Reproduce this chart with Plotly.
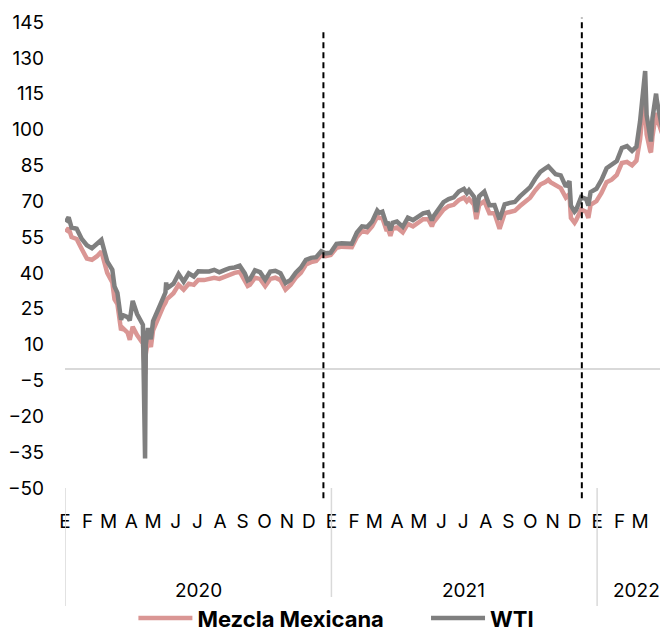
import plotly.graph_objects as go

# --- Datos (USD por barril, lectura aproximada del gráfico) ---
fechas = [
    "2020-01-02", "2020-01-06", "2020-01-10", "2020-01-17", "2020-01-24", "2020-01-31",
    "2020-02-07", "2020-02-14", "2020-02-20", "2020-02-28", "2020-03-06", "2020-03-09",
    "2020-03-13", "2020-03-18", "2020-03-20", "2020-03-27", "2020-03-30", "2020-04-03",
    "2020-04-09", "2020-04-17", "2020-04-20", "2020-04-21", "2020-04-24", "2020-04-28",
    "2020-05-01", "2020-05-08", "2020-05-15", "2020-05-18", "2020-05-19", "2020-05-20",
    "2020-05-29", "2020-06-05", "2020-06-12", "2020-06-19", "2020-06-26", "2020-07-02",
    "2020-07-10", "2020-07-17", "2020-07-24", "2020-07-31", "2020-08-07", "2020-08-14",
    "2020-08-21", "2020-08-28", "2020-09-04", "2020-09-08", "2020-09-11", "2020-09-18",
    "2020-09-25", "2020-10-02", "2020-10-09", "2020-10-16", "2020-10-23", "2020-10-30",
    "2020-11-06", "2020-11-13", "2020-11-20", "2020-11-27", "2020-12-04", "2020-12-11",
    "2020-12-18", "2020-12-24", "2020-12-31",
    "2021-01-08", "2021-01-15", "2021-01-22", "2021-01-29", "2021-02-05", "2021-02-12",
    "2021-02-19", "2021-02-26", "2021-03-05", "2021-03-08", "2021-03-12", "2021-03-18",
    "2021-03-19", "2021-03-23", "2021-03-26", "2021-04-01", "2021-04-09", "2021-04-16",
    "2021-04-23", "2021-04-30", "2021-05-07", "2021-05-14", "2021-05-19", "2021-05-21",
    "2021-05-28", "2021-06-04", "2021-06-11", "2021-06-18", "2021-06-25", "2021-07-02",
    "2021-07-06", "2021-07-09", "2021-07-16", "2021-07-19", "2021-07-23", "2021-07-30",
    "2021-08-06", "2021-08-13", "2021-08-20", "2021-08-27", "2021-09-03", "2021-09-10",
    "2021-09-17", "2021-09-24", "2021-10-01", "2021-10-08", "2021-10-15", "2021-10-22",
    "2021-10-26", "2021-10-29", "2021-11-05", "2021-11-12", "2021-11-19", "2021-11-24",
    "2021-11-26", "2021-12-01", "2021-12-03", "2021-12-10", "2021-12-17", "2021-12-20",
    "2021-12-23", "2021-12-31",
    "2022-01-07", "2022-01-14", "2022-01-21", "2022-01-28", "2022-02-04", "2022-02-11",
    "2022-02-18", "2022-02-24", "2022-03-01", "2022-03-04", "2022-03-08", "2022-03-10",
    "2022-03-15", "2022-03-16", "2022-03-18", "2022-03-23", "2022-03-24", "2022-03-29",
    "2022-03-31",
]

wti = [
    61.2, 63.3, 59.0, 58.5, 54.2, 51.6,
    50.3, 52.1, 53.8, 44.8, 41.3, 34.4,
    31.7, 20.4, 22.4, 21.5, 20.1, 28.3,
    22.8, 18.3, -37.6, 10.0, 16.9, 12.3,
    19.8, 24.7, 29.4, 31.8, 36.0, 33.5,
    35.5, 39.6, 36.3, 39.8, 38.5, 40.7,
    40.6, 40.6, 41.3, 40.3, 41.2, 42.0,
    42.3, 43.0, 39.8, 36.8, 37.3, 41.1,
    40.3, 37.1, 40.6, 40.9, 39.9, 35.8,
    37.1, 40.1, 42.2, 45.5, 46.3, 46.6,
    49.1, 48.2, 48.5,
    52.2, 52.4, 52.3, 52.2, 56.9, 59.5,
    59.2, 61.5, 66.1, 65.1, 65.6, 60.0,
    61.4, 57.8, 61.0, 61.5, 59.3, 63.1,
    62.1, 63.6, 64.9, 65.4, 62.0, 63.6,
    66.3, 69.6, 70.9, 71.6, 74.1, 75.2,
    73.4, 74.6, 71.8, 65.5, 72.1, 74.0,
    68.3, 68.4, 62.3, 68.7, 69.3, 69.7,
    72.0, 74.0, 75.9, 79.4, 82.3, 83.8,
    84.6, 83.6, 81.3, 80.8, 76.1, 78.4,
    68.2, 65.6, 66.3, 71.7, 70.9, 68.2,
    73.8, 75.2,
    78.9, 83.8, 85.1, 86.8, 92.3, 93.1,
    91.1, 92.8, 103.4, 111.0, 124.5, 106.0,
    96.4, 95.0, 104.7, 115.0, 112.3, 104.2,
    101.0,
]

mezcla = [
    57.0, 58.8, 55.0, 54.2, 50.0, 46.0,
    45.5, 47.0, 49.0, 40.0, 36.0, 29.0,
    27.0, 16.0, 17.0, 15.0, 12.0, 17.5,
    14.0, 10.5, -2.4, 6.0, 12.0, 9.0,
    16.0, 21.5, 26.0, 27.5, 28.5, 29.0,
    31.5, 35.0, 33.0, 35.5, 35.0, 37.0,
    37.0, 37.5, 38.0, 37.5, 38.5, 39.5,
    40.0, 40.5, 37.0, 34.5, 35.0, 38.0,
    37.5, 34.5, 37.5, 38.0, 37.0, 33.0,
    35.0, 38.0, 40.0, 43.5, 44.5, 45.0,
    47.5, 47.0, 47.5,
    50.5, 51.0, 51.0, 50.8, 55.0, 57.5,
    57.0, 59.5, 63.5, 63.0, 63.0, 57.5,
    59.0, 55.5, 58.5, 59.0, 57.0, 60.5,
    59.5, 61.0, 62.5, 62.5, 59.5, 61.0,
    63.5, 66.5, 68.0, 68.5, 70.5, 71.5,
    70.0, 71.0, 68.5, 62.5, 68.5, 70.0,
    65.0, 65.0, 58.5, 65.0, 65.5, 66.0,
    68.0, 70.0, 71.5, 74.5, 77.0, 78.0,
    79.0, 78.0, 76.5, 75.5, 71.5, 73.0,
    63.0, 61.0, 62.0, 66.5, 65.5, 63.0,
    68.5, 70.0,
    73.5, 78.0, 79.0, 81.0, 86.0, 86.5,
    85.0, 87.0, 96.0, 105.0, 110.0, 98.0,
    91.0, 90.5, 97.0, 107.0, 105.0, 100.5,
    98.5,
]

# Etiquetas de meses (inicio de cada mes) y años
meses_fechas = [f"{a}-{m:02d}-01" for a in (2020, 2021) for m in range(1, 13)] + \
               ["2022-01-01", "2022-02-01", "2022-03-01"]
meses_texto = ["E", "F", "M", "A", "M", "J", "J", "A", "S", "O", "N", "D"] * 2 + ["E", "F", "M"]
anios = ["2020", "2021", "2022"]
anios_pos = ["2020-07-02", "2021-07-02", "2022-02-24"]
separadores = ["2020-01-01", "2021-01-01", "2022-01-01"]
lineas_punteadas = ["2020-12-21", "2021-12-11"]

fuente = "Inter, Liberation Sans, Arial, sans-serif"
espacio = "\u00a0" * 6  # separación entre las entradas de la leyenda

fig = go.Figure()

fig.add_trace(go.Scatter(
    x=fechas, y=mezcla, mode="lines", name="<b>Mezcla Mexicana</b>" + espacio,
    line=dict(color="#da9694", width=4.5),
))
fig.add_trace(go.Scatter(
    x=fechas, y=wti, mode="lines", name="<b>WTI</b>",
    line=dict(color="#7f7f7f", width=4.5),
))

# separadores de años bajo el eje
for f in separadores:
    fig.add_shape(type="line", xref="x", yref="paper", x0=f, x1=f, y0=0.0, y1=-0.253,
                  line=dict(color="#d9d9d9", width=1.5))

# líneas verticales punteadas
for f, top in zip(lineas_punteadas, [0.983, 1.009]):
    fig.add_shape(type="line", xref="x", yref="paper", x0=f, x1=f, y0=-0.022, y1=top,
                  line=dict(color="black", width=2, dash="6px,4px"))

for txt, pos in zip(anios, anios_pos):
    fig.add_annotation(x=pos, y=-0.219, xref="x", yref="paper", text=txt,
                       showarrow=False, font=dict(size=19, color="black"),
                       yanchor="middle")

# la página añade 8 px de margen, por eso la figura es 660x624
fig.update_layout(
    width=660, height=624,
    margin=dict(l=57, r=1, t=14, b=144, autoexpand=False),
    plot_bgcolor="white", paper_bgcolor="white",
    font=dict(family=fuente, size=19, color="black"),
    showlegend=True,
    legend=dict(orientation="h", xref="container", yref="container",
                x=0.19, y=0.022, xanchor="left", yanchor="middle",
                font=dict(size=22), itemwidth=54),
    xaxis=dict(
        type="date", range=["2020-01-01", "2022-04-07"], automargin=False,
        tickmode="array", tickvals=meses_fechas, ticktext=meses_texto,
        showgrid=False, showline=False, zeroline=False, ticks="",
        tickangle=0, ticklabelstandoff=20, tickfont=dict(size=19),
    ),
    yaxis=dict(
        range=[-50, 145], tickmode="array", tickvals=list(range(-50, 146, 15)),
        automargin=False,
        showgrid=False, showline=False, ticks="",
        zeroline=True, zerolinecolor="#d9d9d9", zerolinewidth=1.5,
        ticklabelstandoff=20, tickfont=dict(size=19),
    ),
)

fig.write_html("out.html")
